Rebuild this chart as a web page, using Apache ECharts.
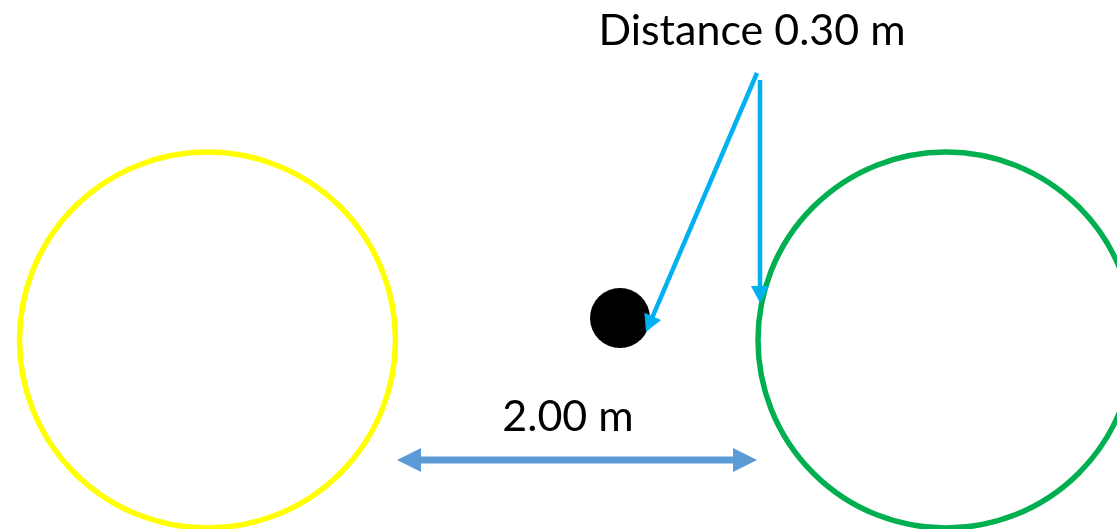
<!DOCTYPE html>
<html>
<head>
<meta charset="utf-8">
<script src="https://cdn.jsdelivr.net/npm/echarts@6/dist/echarts.min.js"></script>
<style>
html,body{margin:0;padding:0;background:#fff;}
#main{width:1117px;height:529px;}
</style>
</head>
<body>
<div id="main"></div>
<script>
// ---- data (diagram units = page pixels) ----
const ringNames = ['Left ring', 'Right ring'];
const ringX = [207.5, 946];
const ringY = [340, 340];
const ringR = [188, 188];

const ballX = [620];
const ballY = [318];
const ballR = [30];

const spanFrom = [397, 460];
const spanTo = [757, 460];
const spanLabel = '2.00 m';
const spanLabelPos = [568, 417];

const pointerFrom = [[757, 73], [760, 80]];
const pointerTo = [[646, 332], [760, 303]];
const pointerLabel = 'Distance 0.30 m';
const pointerLabelPos = [752, 31];

// ---- styles ----
const ringColors = ['#FFFF00', '#00B050'];
const ballColor = '#000000';
const spanColor = '#5B9BD5';
const pointerColor = '#00B0F0';
const FONT = 'Lato, "Open Sans", sans-serif';

function arrowHead(tip, from, len, half) {
  const dx = tip[0] - from[0], dy = tip[1] - from[1];
  const d = Math.sqrt(dx * dx + dy * dy) || 1;
  const ux = dx / d, uy = dy / d;
  const bx = tip[0] - ux * len, by = tip[1] - uy * len;
  return [tip, [bx - uy * half, by + ux * half], [bx + uy * half, by - ux * half]];
}
function shorten(tip, from, len) {
  const dx = tip[0] - from[0], dy = tip[1] - from[1];
  const d = Math.sqrt(dx * dx + dy * dy) || 1;
  return [tip[0] - dx / d * len, tip[1] - dy / d * len];
}

const ringData = ringX.map((x, i) => ({ name: ringNames[i], value: [x, ringY[i], ringR[i]] }));
const ballData = ballX.map((x, i) => [x, ballY[i], ballR[i]]);
const pointerData = pointerFrom.map((p, i) => [p[0], p[1], pointerTo[i][0], pointerTo[i][1]]);

const chart = echarts.init(document.getElementById('main'), null, { renderer: 'canvas' });
chart.setOption({
  animation: false,
  backgroundColor: '#ffffff',
  grid: { left: 0, right: 0, top: 0, bottom: 0 },
  xAxis: { type: 'value', min: 0, max: 1117, show: false },
  yAxis: { type: 'value', min: 0, max: 529, inverse: true, show: false },
  series: [
    {
      type: 'custom', name: 'rings', data: ringData, clip: false,
      renderItem: function (params, api) {
        const c = api.coord([api.value(0), api.value(1)]);
        const r = api.size([api.value(2), 0])[0];
        return {
          type: 'circle',
          shape: { cx: c[0], cy: c[1], r: r },
          style: { fill: null, stroke: ringColors[params.dataIndex], lineWidth: 5.5 }
        };
      }
    },
    {
      type: 'custom', name: 'ball', data: ballData, clip: false,
      renderItem: function (params, api) {
        const c = api.coord([api.value(0), api.value(1)]);
        const r = api.size([api.value(2), 0])[0];
        return { type: 'circle', shape: { cx: c[0], cy: c[1], r: r }, style: { fill: ballColor } };
      }
    },
    {
      type: 'custom', name: 'span', data: [[spanFrom[0], spanFrom[1], spanTo[0], spanTo[1]]], clip: false,
      renderItem: function (params, api) {
        const a = api.coord([api.value(0), api.value(1)]);
        const b = api.coord([api.value(2), api.value(3)]);
        const a2 = shorten(a, b, 20), b2 = shorten(b, a, 20);
        return {
          type: 'group',
          children: [
            { type: 'line', shape: { x1: a2[0], y1: a2[1], x2: b2[0], y2: b2[1] }, style: { stroke: spanColor, lineWidth: 7 } },
            { type: 'polygon', shape: { points: arrowHead(a, b, 24, 12) }, style: { fill: spanColor } },
            { type: 'polygon', shape: { points: arrowHead(b, a, 24, 12) }, style: { fill: spanColor } }
          ]
        };
      }
    },
    {
      type: 'custom', name: 'pointers', data: pointerData, clip: false,
      renderItem: function (params, api) {
        const a = api.coord([api.value(0), api.value(1)]);
        const b = api.coord([api.value(2), api.value(3)]);
        const b2 = shorten(b, a, 14);
        return {
          type: 'group',
          children: [
            { type: 'line', shape: { x1: a[0], y1: a[1], x2: b2[0], y2: b2[1] }, style: { stroke: pointerColor, lineWidth: 4.5 } },
            { type: 'polygon', shape: { points: arrowHead(b, a, 17, 9) }, style: { fill: pointerColor } }
          ]
        };
      }
    },
    {
      type: 'custom', name: 'labels', clip: false,
      data: [[pointerLabelPos[0], pointerLabelPos[1], 0], [spanLabelPos[0], spanLabelPos[1], 1]],
      renderItem: function (params, api) {
        const c = api.coord([api.value(0), api.value(1)]);
        const txt = api.value(2) === 0 ? pointerLabel : spanLabel;
        return {
          type: 'text',
          x: c[0], y: c[1],
          style: { text: txt, fill: '#000000', font: '43px ' + FONT, align: 'center', verticalAlign: 'middle' }
        };
      }
    }
  ]
});
</script>
</body>
</html>
